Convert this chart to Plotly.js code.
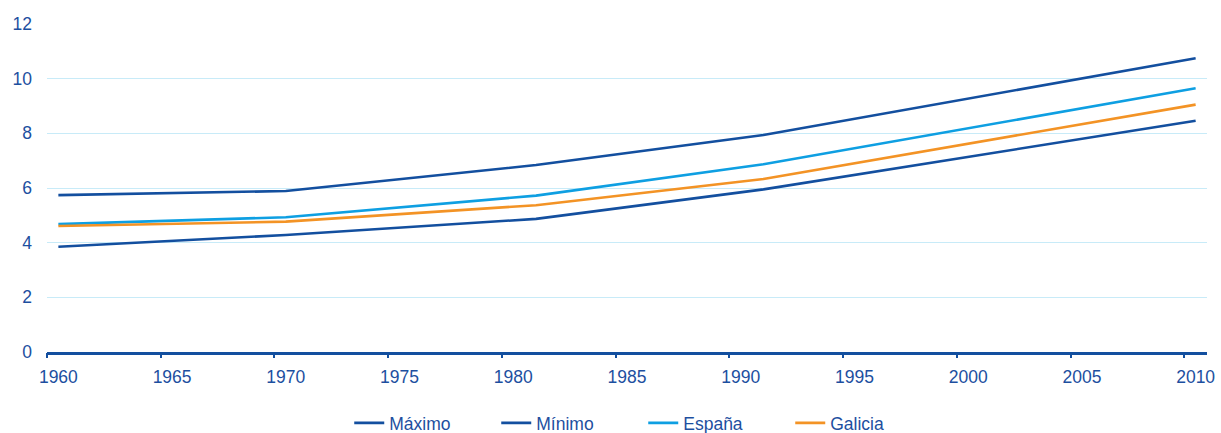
<!DOCTYPE html>
<html>
<head>
<meta charset="utf-8">
<script src="https://cdn.plot.ly/plotly-3.0.1.min.js"></script>
<style>html,body{margin:0;padding:0;background:#fff;}#chart{width:1221px;height:433px;}</style>
</head>
<body>
<div id="chart"></div>
<script>
const years = [1960, 1970, 1981, 1991, 2010];
const maximo = [5.74, 5.89, 6.84, 7.94, 10.75];
const minimo = [3.85, 4.28, 4.87, 5.95, 8.46];
const espana = [4.68, 4.93, 5.72, 6.87, 9.65];
const galicia = [4.61, 4.77, 5.37, 6.33, 9.05];
const seriesNames = ['Máximo', 'Mínimo', 'España', 'Galicia'];
const tickLabels = [1960, 1965, 1970, 1975, 1980, 1985, 1990, 1995, 2000, 2005, 2010];
const yTicks = [0, 2, 4, 6, 8, 10, 12];

const textColor = '#1d4f9f';
const dark = '#134f9f';
const colors = [dark, dark, '#0e9fe2', '#f39325'];
const seriesData = [maximo, minimo, espana, galicia];

const traces = seriesData.map((vals, i) => ({
  type: 'scatter', mode: 'lines', x: years, y: vals, name: seriesNames[i],
  line: {color: colors[i], width: 2.6}, xaxis: 'x', yaxis: 'y'
}));
// empty helper trace so the tick-mark axis (boundaries between year categories) is drawn
traces.push({type: 'scatter', mode: 'lines', x: [], y: [], xaxis: 'x2', yaxis: 'y',
             showlegend: false, hoverinfo: 'skip'});

const layout = {
  width: 1221, height: 433,
  margin: {l: 47, r: 14, t: 24, b: 80.5, autoexpand: false},
  paper_bgcolor: '#fff', plot_bgcolor: '#fff',
  font: {family: 'Liberation Sans, Arial, sans-serif', size: 17.5, color: textColor},
  showlegend: true,
  legend: {orientation: 'h', x: 0.514, xanchor: 'center', yref: 'container',
           y: 0.023, yanchor: 'middle', entrywidth: 102, entrywidthmode: 'pixels',
           font: {size: 17.5, color: textColor}, tracegroupgap: 0},
  xaxis: {
    type: 'linear', range: [1959.5, 2010.5], tickvals: tickLabels,
    ticktext: tickLabels.map(String), ticks: '', showgrid: false, zeroline: false,
    showline: true, linecolor: dark, linewidth: 2.5, ticklabelstandoff: 7,
    tickfont: {size: 17.5, color: textColor}, automargin: false
  },
  xaxis2: {
    type: 'linear', overlaying: 'x', anchor: 'y', side: 'bottom',
    range: [1959.5, 2010.5], tickvals: tickLabels.map(v => v - 0.5),
    ticks: 'outside', ticklen: 5, tickwidth: 2, tickcolor: dark,
    showticklabels: false, showgrid: false, zeroline: false, showline: false,
    automargin: false
  },
  yaxis: {
    range: [0, 12], tickvals: yTicks, ticks: '', showgrid: true,
    gridcolor: '#c8ebf8', gridwidth: 1, zeroline: false, showline: false,
    tickfont: {size: 17.5, color: textColor}, ticklabelstandoff: 14, automargin: false
  }
};

Plotly.newPlot('chart', traces, layout, {displayModeBar: false, staticPlot: true});
</script>
</body>
</html>
